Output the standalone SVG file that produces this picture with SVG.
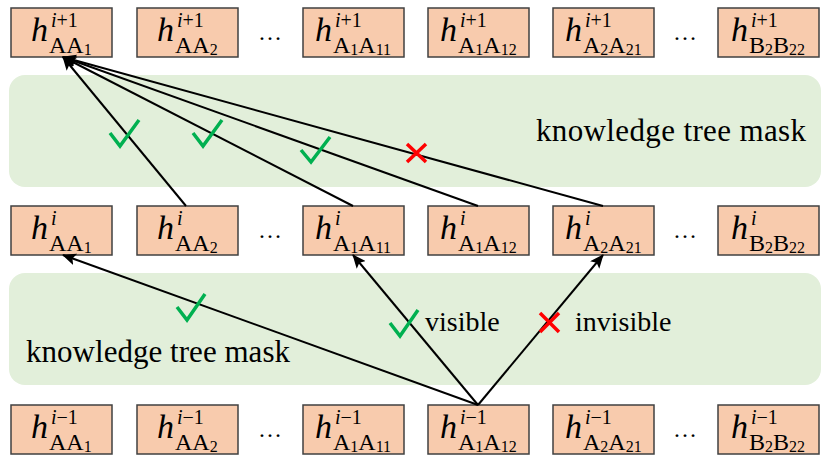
<svg xmlns="http://www.w3.org/2000/svg" width="830" height="462" viewBox="0 0 830 462">
<style>
  .band { fill: #E2EFDA; }
  .box { fill: #F8CBAD; stroke: #404040; stroke-width: 1.5; }
  text { font-family: "Liberation Serif", "Times New Roman", serif; fill: #000; }
  .h { font-size: 34px; font-style: italic; }
  .sup { font-size: 20px; }
  .it { font-style: italic; }
  .sub { font-size: 24px; }
  .ss { font-size: 16px; }
  .dots { font-size: 24px; text-anchor: middle; }
  .lbl { font-size: 31px; }
  .vis { font-size: 28px; }
  .conn { stroke: #000; stroke-width: 2; fill: none; marker-end: url(#arr); }
  .ok { stroke: #00B050; stroke-width: 3.5; fill: none; stroke-linejoin: miter; }
  .no { stroke: #FF0000; stroke-width: 3.5; fill: none; }
</style>
<defs>
  <marker id="arr" markerUnits="userSpaceOnUse" markerWidth="14" markerHeight="12" refX="13" refY="6" orient="auto">
    <path d="M0,0 L14,6 L0,12 L3,6 z" fill="#000"/>
  </marker>
</defs>

<g id="bands">
  <rect class="band" x="9" y="75" width="812" height="112" rx="16"/>
  <rect class="band" x="9" y="273" width="812" height="112" rx="16"/>
</g>

<!-- Row 1: i+1 -->
<g id="r1_AA1"><rect class="box" x="11" y="8" width="101" height="49"/><text class="h" x="31" y="41">h</text><text class="sup" x="51" y="27"><tspan class="it">i</tspan>+1</text><text class="sub" x="49" y="53">AA<tspan class="ss" dy="1.5">1</tspan></text></g>
<g id="r1_AA2"><rect class="box" x="137" y="8" width="101" height="49"/><text class="h" x="157" y="41">h</text><text class="sup" x="177" y="27"><tspan class="it">i</tspan>+1</text><text class="sub" x="175" y="53">AA<tspan class="ss" dy="1.5">2</tspan></text></g>
<g id="r1_A1A11"><rect class="box" x="303" y="8" width="101" height="49"/><text class="h" x="315" y="41">h</text><text class="sup" x="335" y="27"><tspan class="it">i</tspan>+1</text><text class="sub" x="333" y="53">A<tspan class="ss" dy="1.5">1</tspan><tspan dy="-1.5">A</tspan><tspan class="ss" dy="1.5">11</tspan></text></g>
<g id="r1_A1A12"><rect class="box" x="428" y="8" width="101" height="49"/><text class="h" x="440" y="41">h</text><text class="sup" x="460" y="27"><tspan class="it">i</tspan>+1</text><text class="sub" x="458" y="53">A<tspan class="ss" dy="1.5">1</tspan><tspan dy="-1.5">A</tspan><tspan class="ss" dy="1.5">12</tspan></text></g>
<g id="r1_A2A21"><rect class="box" x="553" y="8" width="101" height="49"/><text class="h" x="565" y="41">h</text><text class="sup" x="585" y="27"><tspan class="it">i</tspan>+1</text><text class="sub" x="583" y="53">A<tspan class="ss" dy="1.5">2</tspan><tspan dy="-1.5">A</tspan><tspan class="ss" dy="1.5">21</tspan></text></g>
<g id="r1_B2B22"><rect class="box" x="718" y="8" width="101" height="49"/><text class="h" x="731" y="41">h</text><text class="sup" x="751" y="27"><tspan class="it">i</tspan>+1</text><text class="sub" x="749" y="53">B<tspan class="ss" dy="1.5">2</tspan><tspan dy="-1.5">B</tspan><tspan class="ss" dy="1.5">22</tspan></text></g>

<!-- Row 2: i -->
<g id="r2_AA1"><rect class="box" x="11" y="206" width="101" height="49"/><text class="h" x="31" y="239">h</text><text class="sup it" x="51" y="225">i</text><text class="sub" x="49" y="251">AA<tspan class="ss" dy="1.5">1</tspan></text></g>
<g id="r2_AA2"><rect class="box" x="137" y="206" width="101" height="49"/><text class="h" x="157" y="239">h</text><text class="sup it" x="177" y="225">i</text><text class="sub" x="175" y="251">AA<tspan class="ss" dy="1.5">2</tspan></text></g>
<g id="r2_A1A11"><rect class="box" x="303" y="206" width="101" height="49"/><text class="h" x="315" y="239">h</text><text class="sup it" x="335" y="225">i</text><text class="sub" x="333" y="251">A<tspan class="ss" dy="1.5">1</tspan><tspan dy="-1.5">A</tspan><tspan class="ss" dy="1.5">11</tspan></text></g>
<g id="r2_A1A12"><rect class="box" x="428" y="206" width="101" height="49"/><text class="h" x="440" y="239">h</text><text class="sup it" x="460" y="225">i</text><text class="sub" x="458" y="251">A<tspan class="ss" dy="1.5">1</tspan><tspan dy="-1.5">A</tspan><tspan class="ss" dy="1.5">12</tspan></text></g>
<g id="r2_A2A21"><rect class="box" x="553" y="206" width="101" height="49"/><text class="h" x="565" y="239">h</text><text class="sup it" x="585" y="225">i</text><text class="sub" x="583" y="251">A<tspan class="ss" dy="1.5">2</tspan><tspan dy="-1.5">A</tspan><tspan class="ss" dy="1.5">21</tspan></text></g>
<g id="r2_B2B22"><rect class="box" x="718" y="206" width="101" height="49"/><text class="h" x="731" y="239">h</text><text class="sup it" x="751" y="225">i</text><text class="sub" x="749" y="251">B<tspan class="ss" dy="1.5">2</tspan><tspan dy="-1.5">B</tspan><tspan class="ss" dy="1.5">22</tspan></text></g>

<!-- Row 3: i-1 -->
<g id="r3_AA1"><rect class="box" x="11" y="405" width="101" height="49"/><text class="h" x="31" y="438">h</text><text class="sup" x="51" y="424"><tspan class="it">i</tspan>−1</text><text class="sub" x="49" y="450">AA<tspan class="ss" dy="1.5">1</tspan></text></g>
<g id="r3_AA2"><rect class="box" x="137" y="405" width="101" height="49"/><text class="h" x="157" y="438">h</text><text class="sup" x="177" y="424"><tspan class="it">i</tspan>−1</text><text class="sub" x="175" y="450">AA<tspan class="ss" dy="1.5">2</tspan></text></g>
<g id="r3_A1A11"><rect class="box" x="303" y="405" width="101" height="49"/><text class="h" x="315" y="438">h</text><text class="sup" x="335" y="424"><tspan class="it">i</tspan>−1</text><text class="sub" x="333" y="450">A<tspan class="ss" dy="1.5">1</tspan><tspan dy="-1.5">A</tspan><tspan class="ss" dy="1.5">11</tspan></text></g>
<g id="r3_A1A12"><rect class="box" x="428" y="405" width="101" height="49"/><text class="h" x="440" y="438">h</text><text class="sup" x="460" y="424"><tspan class="it">i</tspan>−1</text><text class="sub" x="458" y="450">A<tspan class="ss" dy="1.5">1</tspan><tspan dy="-1.5">A</tspan><tspan class="ss" dy="1.5">12</tspan></text></g>
<g id="r3_A2A21"><rect class="box" x="553" y="405" width="101" height="49"/><text class="h" x="565" y="438">h</text><text class="sup" x="585" y="424"><tspan class="it">i</tspan>−1</text><text class="sub" x="583" y="450">A<tspan class="ss" dy="1.5">2</tspan><tspan dy="-1.5">A</tspan><tspan class="ss" dy="1.5">21</tspan></text></g>
<g id="r3_B2B22"><rect class="box" x="718" y="405" width="101" height="49"/><text class="h" x="731" y="438">h</text><text class="sup" x="751" y="424"><tspan class="it">i</tspan>−1</text><text class="sub" x="749" y="450">B<tspan class="ss" dy="1.5">2</tspan><tspan dy="-1.5">B</tspan><tspan class="ss" dy="1.5">22</tspan></text></g>

<g id="ellipses">
  <text class="dots" x="270" y="40">…</text>
  <text class="dots" x="685" y="40">…</text>
  <text class="dots" x="270" y="238">…</text>
  <text class="dots" x="685" y="238">…</text>
  <text class="dots" x="270" y="437">…</text>
  <text class="dots" x="685" y="437">…</text>
</g>

<g id="connectors">
  <line class="conn" x1="186" y1="206" x2="63" y2="57"/>
  <line class="conn" x1="353" y1="206" x2="63" y2="57"/>
  <line class="conn" x1="478" y1="206" x2="63" y2="57"/>
  <line class="conn" x1="603" y1="206" x2="63" y2="57"/>
  <line class="conn" x1="478" y1="405" x2="63" y2="255"/>
  <line class="conn" x1="478" y1="405" x2="353" y2="255"/>
  <line class="conn" x1="478" y1="405" x2="603" y2="255"/>
</g>

<g id="marks">
  <path class="ok" d="M110,133 L120,146 L139,120"/>
  <path class="ok" d="M193,133 L203,146 L222,120"/>
  <path class="ok" d="M301,150 L311,162 L330,137"/>
  <path class="no" d="M407,144 L426,162 M426,144 L407,162"/>
  <path class="ok" d="M177,307 L187,320 L205,294"/>
  <path class="ok" d="M390,323 L400,336 L418,310"/>
  <path class="no" d="M540,313 L559,332 M559,313 L540,332"/>
</g>

<g id="labels">
  <text class="lbl" x="536" y="141" textLength="270">knowledge tree mask</text>
  <text class="lbl" x="26" y="362" textLength="264">knowledge tree mask</text>
  <text class="vis" x="425" y="331">visible</text>
  <text class="vis" x="575" y="331">invisible</text>
</g>
</svg>
